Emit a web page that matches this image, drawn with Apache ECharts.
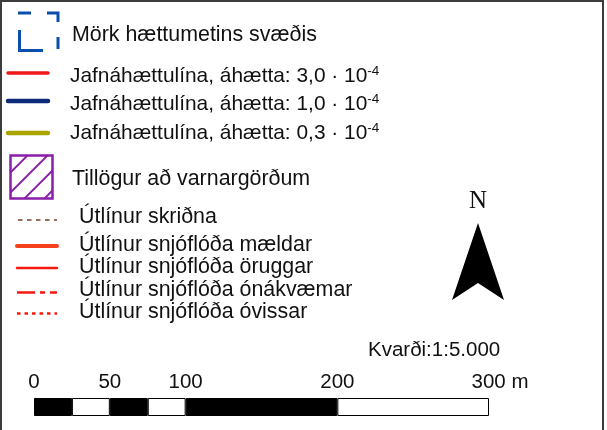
<!DOCTYPE html>
<html>
<head>
<meta charset="utf-8">
<script src="https://cdn.jsdelivr.net/npm/echarts@6/dist/echarts.min.js"></script>
<style>
  html, body { margin: 0; padding: 0; background: #fff; }
  #chart { width: 607px; height: 430px; }
</style>
</head>
<body>
<div id="chart"></div>
<script>
// legend texts
const areaLabel = 'Mörk hættumetins svæðis'
const riskLabel = 'Jafnáhættulína, áhætta: '
const riskValues = ['3,0', '1,0', '0,3']
const riskExponent = '-4'
const wallLabel = 'Tillögur að varnargörðum'
const outlineLabels = [
  'Útlínur skriðna',
  'Útlínur snjóflóða mældar',
  'Útlínur snjóflóða öruggar',
  'Útlínur snjóflóða ónákvæmar',
  'Útlínur snjóflóða óvissar'
]
const northLabel = 'N'

// scale bar
const scaleText = 'Kvarði:1:5.000'
const scaleTicks = [0, 50, 100, 200, 300]
const scaleUnit = 'm'
const scaleSegments = [25, 25, 25, 25, 100, 100]

const FONT = '"Liberation Sans", Arial, sans-serif'
const INK = '#111'

const chart = echarts.init(document.getElementById('chart'))

function label(x, y, text, extra) {
  return {
    type: 'text',
    x,
    y,
    silent: true,
    style: Object.assign(
      { text, font: `21.4px ${FONT}`, fill: INK, verticalAlign: 'middle' },
      extra
    )
  }
}

function swatch(x1, x2, y, color, width, dash) {
  return {
    type: 'line',
    silent: true,
    shape: { x1, y1: y, x2, y2: y },
    style: {
      stroke: color,
      lineWidth: width,
      lineDash: dash || null,
      lineCap: dash ? 'butt' : 'round'
    }
  }
}

// diagonal hatching lines (x + y = c) clipped to a box
function hatch(box, step, color) {
  const out = []
  const x0 = box.x, y0 = box.y, x1 = box.x + box.width, y1 = box.y + box.height
  for (let c = x0 + y0 + step - 3; c < x1 + y1; c += step) {
    const ax = Math.max(x0, c - y1), bx = Math.min(x1, c - y0)
    if (bx <= ax) continue
    out.push({
      type: 'line',
      silent: true,
      shape: { x1: ax, y1: c - ax, x2: bx, y2: c - bx },
      style: { stroke: color, lineWidth: 1.8 }
    })
  }
  return out
}

const blue = '#0b4fae'
const areaCorners = [
  [[18, 13], [31, 13]],
  [[47, 13], [58, 13], [58, 22]],
  [[58, 37], [58, 49]],
  [[43, 50.5], [19.5, 50.5], [19.5, 30]]
].map((points) => ({
  type: 'polyline',
  silent: true,
  shape: { points },
  style: { stroke: blue, lineWidth: 3, fill: null }
}))

const riskColors = ['#f01818', '#0d2a78', '#aaa500']
const riskRows = [73, 101, 133]
const riskTextRows = [76.5, 104, 133]

const riskGraphics = []
riskValues.forEach((v, i) => {
  riskGraphics.push(swatch(8, 48, riskRows[i], riskColors[i], i === 0 ? 3.5 : 4.5))
  riskGraphics.push(
    label(70, riskTextRows[i], `{m|${riskLabel}${v} · 10}{s|${riskExponent}}`, {
      rich: {
        m: { font: `20.9px ${FONT}`, fill: INK, lineHeight: 24 },
        s: { font: `13.5px ${FONT}`, fill: INK, lineHeight: 12, verticalAlign: 'top' }
      }
    })
  )
})

const wallBox = { x: 10.5, y: 155.5, width: 42, height: 43 }
const wallGraphics = [
  ...hatch(wallBox, 20, '#8a1ea8'),
  {
    type: 'rect',
    silent: true,
    shape: wallBox,
    style: { fill: null, stroke: '#8a1ea8', lineWidth: 2.5 }
  },
  label(72, 179.5, wallLabel)
]

const outlineRows = [220, 246, 268, 292.5, 313.5]
const outlineTextRows = [217, 245.5, 267, 290.5, 312]
const outlineStyles = [
  ['#9a6e5c', 2, [4.5, 4.5]],
  ['#f5401e', 4, null],
  ['#f41a10', 2.5, null],
  ['#f41a10', 2.5, [18, 5, 5, 5]],
  ['#f41a10', 2.5, [3.5, 4]]
]
const outlineGraphics = []
outlineLabels.forEach((t, i) => {
  const [c, w, d] = outlineStyles[i]
  outlineGraphics.push(swatch(i === 0 ? 18 : 17, 57, outlineRows[i], c, w, d))
  outlineGraphics.push(label(79, outlineTextRows[i], t))
})

const northGraphics = [
  label(478, 201, northLabel, {
    font: `25px "Liberation Serif", "Times New Roman", serif`,
    align: 'center'
  }),
  {
    type: 'polygon',
    silent: true,
    shape: { points: [[478, 223], [504, 300], [478, 283], [452, 300]] },
    style: { fill: '#000' }
  }
]

const frame = {
  type: 'rect',
  silent: true,
  shape: { x: 1, y: 1, width: 602, height: 440 },
  style: { fill: null, stroke: '#3c3c3c', lineWidth: 2 }
}

const lastTick = scaleTicks[scaleTicks.length - 1]

chart.setOption({
  animation: false,
  backgroundColor: '#fff',
  grid: { left: 34, right: 118, top: 398, height: 18 },
  xAxis: {
    type: 'value',
    min: 0,
    max: lastTick,
    position: 'top',
    axisLine: { show: false },
    axisTick: { show: false },
    splitLine: { show: false },
    axisLabel: {
      customValues: scaleTicks,
      margin: 5,
      color: INK,
      fontSize: 20.5,
      fontFamily: FONT,
      formatter: (v) => (v === lastTick ? `{pad|}${v} ${scaleUnit}` : `${v}`),
      rich: { pad: { width: 22 } }
    }
  },
  yAxis: { type: 'category', data: ['scale'], show: false },
  series: scaleSegments.map((v, i) => ({
    type: 'bar',
    stack: 'scale',
    data: [v],
    barWidth: 18,
    silent: true,
    itemStyle: {
      color: i % 2 ? '#fff' : '#000',
      borderColor: '#000',
      borderWidth: 1
    }
  })),
  graphic: [
    frame,
    ...areaCorners,
    label(72, 35.5, areaLabel),
    ...riskGraphics,
    ...wallGraphics,
    ...outlineGraphics,
    ...northGraphics,
    label(368, 350, scaleText, { font: `20.5px ${FONT}` })
  ]
})
</script>
</body>
</html>
